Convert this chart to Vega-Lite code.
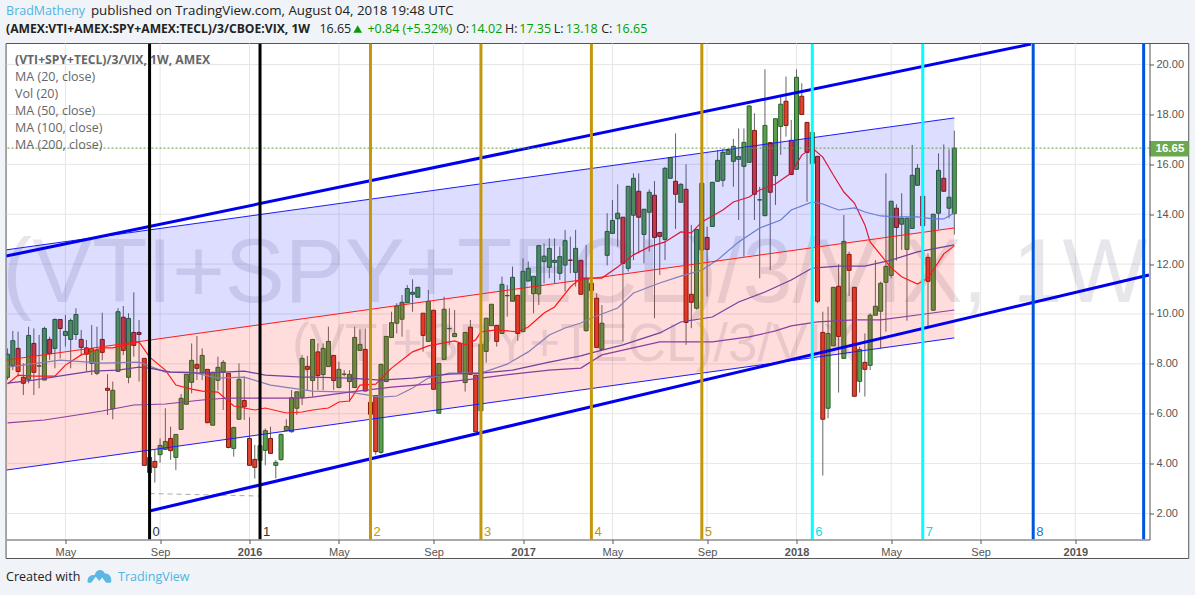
{"$schema":"https://vega.github.io/schema/vega-lite/v6.json","width":1143,"height":496,"autosize":"none","padding":{"left":6.5,"top":43.5,"right":45.5,"bottom":55.5},"background":"#f0f3f7","config":{"view":{"stroke":null},"scale":{"continuousPadding":0}},
"datasets":{
"candles":[
{"date":"2015-02-16","open":7.46,"high":8.62,"low":7.35,"close":8.39},
{"date":"2015-02-23","open":7.93,"high":9.32,"low":7.75,"close":8.93},
{"date":"2015-03-02","open":8.62,"high":9.29,"low":7.49,"close":7.69},
{"date":"2015-03-09","open":7.46,"high":8.02,"low":6.75,"close":7.22},
{"date":"2015-03-16","open":7.38,"high":9.49,"low":7.22,"close":9.14},
{"date":"2015-03-23","open":8.82,"high":9.42,"low":6.75,"close":7.66},
{"date":"2015-03-30","open":7.91,"high":9.16,"low":7.02,"close":7.92},
{"date":"2015-04-06","open":7.35,"high":9.49,"low":7.35,"close":9.42},
{"date":"2015-04-13","open":8.98,"high":9.09,"low":8.15,"close":8.41},
{"date":"2015-04-20","open":8.62,"high":9.82,"low":7.82,"close":9.78},
{"date":"2015-04-27","open":9.78,"high":9.78,"low":8.22,"close":9.42},
{"date":"2015-05-04","open":9.14,"high":9.96,"low":8.69,"close":9.30},
{"date":"2015-05-11","open":8.98,"high":9.82,"low":7.82,"close":9.74},
{"date":"2015-05-18","open":9.18,"high":10.23,"low":8.96,"close":9.98},
{"date":"2015-05-25","open":8.98,"high":9.36,"low":8.35,"close":8.66},
{"date":"2015-06-01","open":8.64,"high":8.96,"low":7.69,"close":8.39},
{"date":"2015-06-08","open":8.02,"high":9.56,"low":7.55,"close":8.61},
{"date":"2015-06-15","open":7.62,"high":9.49,"low":7.55,"close":8.55},
{"date":"2015-06-22","open":8.98,"high":10.05,"low":8.15,"close":8.46},
{"date":"2015-06-29","open":7.02,"high":7.59,"low":5.95,"close":6.94},
{"date":"2015-07-06","open":6.20,"high":7.29,"low":5.78,"close":6.94},
{"date":"2015-07-13","open":7.70,"high":10.23,"low":7.70,"close":10.09},
{"date":"2015-07-20","open":9.87,"high":10.32,"low":8.35,"close":8.54},
{"date":"2015-07-27","open":7.46,"high":10.03,"low":7.22,"close":9.82},
{"date":"2015-08-03","open":9.26,"high":10.87,"low":8.29,"close":8.74},
{"date":"2015-08-10","open":9.26,"high":9.76,"low":7.29,"close":9.18},
{"date":"2015-08-17","open":8.22,"high":8.22,"low":3.93,"close":3.93},
{"date":"2015-08-24","open":3.64,"high":4.68,"low":3.61,"close":4.25},
{"date":"2015-08-31","open":4.09,"high":4.55,"low":3.24,"close":3.85},
{"date":"2015-09-07","open":4.36,"high":5.01,"low":4.04,"close":4.73},
{"date":"2015-09-14","open":4.57,"high":6.22,"low":4.55,"close":4.89},
{"date":"2015-09-21","open":5.01,"high":5.48,"low":4.15,"close":4.52},
{"date":"2015-09-28","open":4.25,"high":5.17,"low":3.74,"close":5.17},
{"date":"2015-10-05","open":5.37,"high":6.79,"low":5.37,"close":6.62},
{"date":"2015-10-12","open":6.38,"high":7.58,"low":6.35,"close":7.58},
{"date":"2015-10-19","open":7.26,"high":8.82,"low":6.82,"close":8.14},
{"date":"2015-10-26","open":7.98,"high":9.12,"low":7.35,"close":7.82},
{"date":"2015-11-02","open":7.65,"high":8.62,"low":7.35,"close":8.34},
{"date":"2015-11-09","open":7.78,"high":7.78,"low":5.62,"close":5.64},
{"date":"2015-11-16","open":5.54,"high":7.69,"low":5.54,"close":7.66},
{"date":"2015-11-23","open":7.34,"high":8.29,"low":6.93,"close":7.86},
{"date":"2015-11-30","open":7.66,"high":8.15,"low":6.15,"close":8.06},
{"date":"2015-12-07","open":7.62,"high":7.62,"low":4.61,"close":4.65},
{"date":"2015-12-14","open":4.61,"high":5.48,"low":4.28,"close":5.45},
{"date":"2015-12-21","open":5.78,"high":8.02,"low":5.75,"close":7.38},
{"date":"2015-12-28","open":6.53,"high":7.49,"low":5.75,"close":6.28},
{"date":"2016-01-04","open":5.01,"high":5.86,"low":3.93,"close":3.93},
{"date":"2016-01-11","open":4.17,"high":4.75,"low":3.40,"close":3.85},
{"date":"2016-01-18","open":4.13,"high":4.95,"low":3.88,"close":4.72},
{"date":"2016-01-25","open":4.53,"high":5.41,"low":3.93,"close":5.32},
{"date":"2016-02-01","open":5.01,"high":5.48,"low":4.39,"close":4.41},
{"date":"2016-02-08","open":3.93,"high":4.14,"low":3.41,"close":4.05},
{"date":"2016-02-15","open":4.16,"high":5.21,"low":4.12,"close":5.17},
{"date":"2016-02-22","open":5.32,"high":5.78,"low":5.32,"close":5.49},
{"date":"2016-02-29","open":5.28,"high":6.95,"low":5.24,"close":6.64},
{"date":"2016-03-07","open":6.22,"high":6.88,"low":5.95,"close":6.88},
{"date":"2016-03-14","open":6.66,"high":8.35,"low":6.35,"close":8.22},
{"date":"2016-03-21","open":7.90,"high":8.32,"low":6.95,"close":7.78},
{"date":"2016-03-28","open":7.33,"high":8.98,"low":6.68,"close":8.98},
{"date":"2016-04-04","open":8.48,"high":8.82,"low":6.95,"close":7.53},
{"date":"2016-04-11","open":7.57,"high":8.82,"low":6.95,"close":8.62},
{"date":"2016-04-18","open":7.89,"high":9.49,"low":7.89,"close":8.90},
{"date":"2016-04-25","open":8.34,"high":8.34,"low":6.95,"close":7.33},
{"date":"2016-05-02","open":7.05,"high":8.09,"low":7.05,"close":7.78},
{"date":"2016-05-09","open":7.58,"high":7.75,"low":7.49,"close":7.59},
{"date":"2016-05-16","open":7.29,"high":7.75,"low":6.48,"close":7.58},
{"date":"2016-05-23","open":7.05,"high":9.49,"low":7.05,"close":9.06},
{"date":"2016-05-30","open":8.54,"high":9.38,"low":8.54,"close":8.78},
{"date":"2016-06-06","open":8.58,"high":9.42,"low":6.91,"close":6.91},
{"date":"2016-06-13","open":6.46,"high":6.46,"low":5.98,"close":5.98},
{"date":"2016-06-20","open":6.73,"high":6.73,"low":4.35,"close":4.48},
{"date":"2016-06-27","open":4.45,"high":7.98,"low":4.40,"close":7.98},
{"date":"2016-07-04","open":7.29,"high":9.10,"low":7.29,"close":9.10},
{"date":"2016-07-11","open":9.06,"high":10.09,"low":9.06,"close":9.65},
{"date":"2016-07-18","open":9.63,"high":10.43,"low":9.22,"close":10.32},
{"date":"2016-07-25","open":9.79,"high":10.76,"low":9.09,"close":10.47},
{"date":"2016-08-01","open":10.45,"high":11.16,"low":10.45,"close":11.02},
{"date":"2016-08-08","open":10.79,"high":11.39,"low":10.09,"close":10.87},
{"date":"2016-08-15","open":10.67,"high":11.07,"low":10.67,"close":11.07},
{"date":"2016-08-22","open":10.03,"high":10.03,"low":8.49,"close":9.14},
{"date":"2016-08-29","open":8.90,"high":10.96,"low":8.90,"close":10.51},
{"date":"2016-09-05","open":10.15,"high":10.15,"low":6.98,"close":6.98},
{"date":"2016-09-12","open":6.02,"high":8.02,"low":6.02,"close":8.02},
{"date":"2016-09-19","open":8.18,"high":10.69,"low":8.18,"close":10.19},
{"date":"2016-09-26","open":9.41,"high":10.23,"low":8.76,"close":9.42},
{"date":"2016-10-03","open":9.09,"high":10.16,"low":9.09,"close":9.22},
{"date":"2016-10-10","open":8.82,"high":8.82,"low":7.65,"close":7.65},
{"date":"2016-10-17","open":7.25,"high":9.26,"low":6.89,"close":9.26},
{"date":"2016-10-24","open":9.47,"high":9.76,"low":7.58,"close":7.58},
{"date":"2016-10-31","open":7.55,"high":7.55,"low":5.28,"close":5.28},
{"date":"2016-11-07","open":6.12,"high":8.78,"low":6.12,"close":8.78},
{"date":"2016-11-14","open":8.50,"high":9.83,"low":8.05,"close":9.83},
{"date":"2016-11-21","open":9.53,"high":10.39,"low":9.53,"close":10.39},
{"date":"2016-11-28","open":9.54,"high":9.54,"low":8.69,"close":8.90},
{"date":"2016-12-05","open":9.22,"high":11.50,"low":9.22,"close":11.19},
{"date":"2016-12-12","open":10.73,"high":11.16,"low":9.89,"close":10.74},
{"date":"2016-12-19","open":10.51,"high":11.90,"low":10.51,"close":11.47},
{"date":"2016-12-26","open":10.75,"high":10.75,"low":8.92,"close":9.22},
{"date":"2017-01-02","open":9.29,"high":12.23,"low":9.29,"close":11.71},
{"date":"2017-01-09","open":11.32,"high":12.10,"low":11.32,"close":11.83},
{"date":"2017-01-16","open":10.81,"high":11.51,"low":10.03,"close":11.51},
{"date":"2017-01-23","open":10.80,"high":12.77,"low":10.36,"close":12.74},
{"date":"2017-01-30","open":12.10,"high":12.83,"low":11.23,"close":12.32},
{"date":"2017-02-06","open":11.87,"high":13.03,"low":11.43,"close":12.63},
{"date":"2017-02-13","open":12.07,"high":13.03,"low":11.23,"close":12.15},
{"date":"2017-02-20","open":11.63,"high":12.70,"low":11.36,"close":12.30},
{"date":"2017-02-27","open":11.96,"high":13.37,"low":10.90,"close":12.94},
{"date":"2017-03-06","open":12.16,"high":13.10,"low":11.63,"close":12.15},
{"date":"2017-03-13","open":11.67,"high":13.37,"low":11.10,"close":12.63},
{"date":"2017-03-20","open":12.15,"high":12.15,"low":10.79,"close":10.79},
{"date":"2017-03-27","open":9.33,"high":12.77,"low":9.29,"close":11.43},
{"date":"2017-04-03","open":11.23,"high":11.23,"low":10.94,"close":10.94},
{"date":"2017-04-10","open":10.63,"high":10.83,"low":8.66,"close":8.66},
{"date":"2017-04-17","open":8.58,"high":10.36,"low":8.58,"close":9.63},
{"date":"2017-04-24","open":12.35,"high":14.04,"low":11.95,"close":13.31},
{"date":"2017-05-01","open":13.23,"high":14.57,"low":13.23,"close":13.75},
{"date":"2017-05-08","open":13.82,"high":15.20,"low":12.70,"close":14.04},
{"date":"2017-05-15","open":13.88,"high":13.88,"low":8.89,"close":12.03},
{"date":"2017-05-22","open":11.83,"high":15.12,"low":11.70,"close":15.12},
{"date":"2017-05-29","open":13.96,"high":15.64,"low":12.16,"close":15.44},
{"date":"2017-06-05","open":14.92,"high":15.64,"low":12.43,"close":13.88},
{"date":"2017-06-12","open":13.19,"high":14.20,"low":12.03,"close":14.20},
{"date":"2017-06-19","open":14.08,"high":15.00,"low":12.50,"close":14.88},
{"date":"2017-06-26","open":14.76,"high":15.33,"low":9.83,"close":13.07},
{"date":"2017-07-03","open":13.27,"high":13.27,"low":11.56,"close":13.11},
{"date":"2017-07-10","open":12.99,"high":15.90,"low":12.16,"close":15.84},
{"date":"2017-07-17","open":15.44,"high":16.30,"low":15.44,"close":16.27},
{"date":"2017-07-24","open":15.32,"high":17.24,"low":13.41,"close":14.80},
{"date":"2017-07-31","open":14.48,"high":15.24,"low":14.48,"close":15.20},
{"date":"2017-08-07","open":15.00,"high":16.00,"low":8.76,"close":9.66},
{"date":"2017-08-14","open":10.79,"high":13.57,"low":9.43,"close":10.47},
{"date":"2017-08-21","open":10.23,"high":13.39,"low":10.18,"close":13.39},
{"date":"2017-08-28","open":12.57,"high":15.24,"low":12.57,"close":15.24},
{"date":"2017-09-04","open":13.07,"high":13.50,"low":10.70,"close":12.59},
{"date":"2017-09-11","open":13.51,"high":15.28,"low":13.51,"close":15.28},
{"date":"2017-09-18","open":15.32,"high":16.57,"low":15.32,"close":16.16},
{"date":"2017-09-25","open":15.36,"high":16.64,"low":15.10,"close":16.48},
{"date":"2017-10-02","open":16.40,"high":16.64,"low":16.40,"close":16.56},
{"date":"2017-10-09","open":16.12,"high":17.02,"low":15.10,"close":16.72},
{"date":"2017-10-16","open":16.20,"high":17.44,"low":13.77,"close":16.31},
{"date":"2017-10-23","open":15.92,"high":17.44,"low":12.30,"close":16.88},
{"date":"2017-10-30","open":16.08,"high":18.38,"low":16.08,"close":18.34},
{"date":"2017-11-06","open":17.36,"high":18.05,"low":13.77,"close":14.80},
{"date":"2017-11-13","open":14.57,"high":15.10,"low":11.43,"close":14.58},
{"date":"2017-11-20","open":13.94,"high":19.81,"low":13.94,"close":17.56},
{"date":"2017-11-27","open":16.87,"high":16.87,"low":11.76,"close":14.88},
{"date":"2017-12-04","open":15.55,"high":17.83,"low":14.37,"close":17.83},
{"date":"2017-12-11","open":17.52,"high":18.71,"low":16.38,"close":18.41},
{"date":"2017-12-18","open":18.53,"high":19.52,"low":17.11,"close":17.56},
{"date":"2017-12-25","open":16.96,"high":17.78,"low":15.59,"close":15.59},
{"date":"2018-01-01","open":15.80,"high":19.81,"low":15.80,"close":19.49},
{"date":"2018-01-08","open":18.73,"high":19.25,"low":18.00,"close":18.00},
{"date":"2018-01-15","open":17.68,"high":17.68,"low":14.50,"close":16.48},
{"date":"2018-01-22","open":16.04,"high":17.28,"low":16.04,"close":17.28},
{"date":"2018-01-29","open":16.32,"high":16.32,"low":10.43,"close":10.51},
{"date":"2018-02-05","open":9.26,"high":10.09,"low":3.52,"close":5.78},
{"date":"2018-02-12","open":6.22,"high":10.29,"low":5.82,"close":9.22},
{"date":"2018-02-19","open":8.72,"high":11.07,"low":8.72,"close":11.07},
{"date":"2018-02-26","open":11.11,"high":12.00,"low":6.85,"close":9.10},
{"date":"2018-03-05","open":8.22,"high":13.97,"low":8.22,"close":12.91},
{"date":"2018-03-12","open":12.39,"high":12.50,"low":10.72,"close":11.75},
{"date":"2018-03-19","open":11.07,"high":11.07,"low":6.70,"close":6.70},
{"date":"2018-03-26","open":7.30,"high":8.69,"low":6.85,"close":8.58},
{"date":"2018-04-02","open":8.06,"high":9.22,"low":6.69,"close":7.78},
{"date":"2018-04-09","open":7.94,"high":10.03,"low":7.75,"close":9.95},
{"date":"2018-04-16","open":9.95,"high":12.16,"low":9.95,"close":10.31},
{"date":"2018-04-23","open":10.11,"high":11.30,"low":8.62,"close":11.23},
{"date":"2018-04-30","open":11.27,"high":15.64,"low":9.29,"close":11.91},
{"date":"2018-05-07","open":11.55,"high":14.52,"low":11.43,"close":14.52},
{"date":"2018-05-14","open":14.24,"high":14.40,"low":12.14,"close":13.47},
{"date":"2018-05-21","open":13.60,"high":14.84,"low":12.57,"close":13.84},
{"date":"2018-05-28","open":12.59,"high":13.84,"low":9.73,"close":13.84},
{"date":"2018-06-04","open":13.43,"high":16.78,"low":13.43,"close":15.56},
{"date":"2018-06-11","open":15.16,"high":16.01,"low":15.16,"close":15.84},
{"date":"2018-06-18","open":14.72,"high":14.72,"low":13.54,"close":13.54},
{"date":"2018-06-25","open":12.27,"high":12.43,"low":9.49,"close":11.31},
{"date":"2018-07-02","open":10.15,"high":14.00,"low":10.15,"close":14.00},
{"date":"2018-07-09","open":14.04,"high":16.44,"low":13.39,"close":15.76},
{"date":"2018-07-16","open":15.44,"high":16.80,"low":14.92,"close":14.92},
{"date":"2018-07-23","open":14.24,"high":16.60,"low":13.84,"close":14.68},
{"date":"2018-07-30","open":14.02,"high":17.35,"low":13.18,"close":16.65}
],
"ma":[
{"ma":"MA20","date":"2015-02-16","value":7.19},{"ma":"MA20","date":"2015-03-02","value":7.55},{"ma":"MA20","date":"2015-03-23","value":7.51},{"ma":"MA20","date":"2015-04-20","value":7.51},{"ma":"MA20","date":"2015-05-04","value":7.95},{"ma":"MA20","date":"2015-05-25","value":8.36},{"ma":"MA20","date":"2015-06-22","value":8.64},{"ma":"MA20","date":"2015-07-06","value":8.64},{"ma":"MA20","date":"2015-08-03","value":8.84},{"ma":"MA20","date":"2015-08-10","value":8.88},{"ma":"MA20","date":"2015-08-24","value":8.27},{"ma":"MA20","date":"2015-09-14","value":7.75},{"ma":"MA20","date":"2015-09-28","value":7.15},{"ma":"MA20","date":"2015-10-19","value":6.99},{"ma":"MA20","date":"2015-11-02","value":6.91},{"ma":"MA20","date":"2015-11-23","value":6.87},{"ma":"MA20","date":"2015-12-14","value":6.31},{"ma":"MA20","date":"2016-01-11","value":6.15},{"ma":"MA20","date":"2016-01-25","value":6.23},{"ma":"MA20","date":"2016-02-22","value":6.03},{"ma":"MA20","date":"2016-03-14","value":6.07},{"ma":"MA20","date":"2016-03-28","value":6.15},{"ma":"MA20","date":"2016-04-18","value":6.23},{"ma":"MA20","date":"2016-05-02","value":6.47},{"ma":"MA20","date":"2016-05-16","value":6.51},{"ma":"MA20","date":"2016-05-30","value":7.15},{"ma":"MA20","date":"2016-06-20","value":7.19},{"ma":"MA20","date":"2016-07-11","value":7.83},{"ma":"MA20","date":"2016-08-08","value":8.48},{"ma":"MA20","date":"2016-08-29","value":8.72},{"ma":"MA20","date":"2016-09-19","value":8.84},{"ma":"MA20","date":"2016-10-03","value":8.92},{"ma":"MA20","date":"2016-10-17","value":8.76},{"ma":"MA20","date":"2016-10-31","value":8.96},{"ma":"MA20","date":"2016-11-07","value":9.28},{"ma":"MA20","date":"2016-11-28","value":9.36},{"ma":"MA20","date":"2016-12-26","value":9.28},{"ma":"MA20","date":"2017-01-09","value":9.48},{"ma":"MA20","date":"2017-01-30","value":10.04},{"ma":"MA20","date":"2017-02-13","value":10.28},{"ma":"MA20","date":"2017-03-06","value":11.08},{"ma":"MA20","date":"2017-03-20","value":11.44},{"ma":"MA20","date":"2017-04-17","value":11.44},{"ma":"MA20","date":"2017-05-08","value":11.88},{"ma":"MA20","date":"2017-05-29","value":12.37},{"ma":"MA20","date":"2017-06-19","value":12.69},{"ma":"MA20","date":"2017-07-10","value":12.89},{"ma":"MA20","date":"2017-07-31","value":13.29},{"ma":"MA20","date":"2017-08-14","value":13.25},{"ma":"MA20","date":"2017-08-28","value":13.69},{"ma":"MA20","date":"2017-09-25","value":14.17},{"ma":"MA20","date":"2017-10-09","value":14.49},{"ma":"MA20","date":"2017-10-30","value":14.69},{"ma":"MA20","date":"2017-11-13","value":14.97},{"ma":"MA20","date":"2017-12-04","value":15.21},{"ma":"MA20","date":"2017-12-25","value":15.65},{"ma":"MA20","date":"2018-01-08","value":16.37},{"ma":"MA20","date":"2018-01-22","value":16.65},{"ma":"MA20","date":"2018-02-05","value":16.29},{"ma":"MA20","date":"2018-02-19","value":15.57},{"ma":"MA20","date":"2018-03-05","value":14.89},{"ma":"MA20","date":"2018-03-19","value":14.45},{"ma":"MA20","date":"2018-04-02","value":13.57},{"ma":"MA20","date":"2018-04-09","value":12.89},{"ma":"MA20","date":"2018-04-23","value":12.37},{"ma":"MA20","date":"2018-05-07","value":11.85},{"ma":"MA20","date":"2018-05-21","value":11.49},{"ma":"MA20","date":"2018-06-11","value":11.20},{"ma":"MA20","date":"2018-06-25","value":11.44},{"ma":"MA20","date":"2018-07-02","value":11.76},{"ma":"MA20","date":"2018-07-16","value":12.41},{"ma":"MA20","date":"2018-07-30","value":12.73},
{"ma":"MA50","date":"2015-02-16","value":7.87},{"ma":"MA50","date":"2015-04-27","value":8.15},{"ma":"MA50","date":"2015-06-22","value":8.03},{"ma":"MA50","date":"2015-08-10","value":8.07},{"ma":"MA50","date":"2015-09-14","value":7.67},{"ma":"MA50","date":"2015-10-19","value":7.67},{"ma":"MA50","date":"2015-11-23","value":7.43},{"ma":"MA50","date":"2015-12-28","value":7.47},{"ma":"MA50","date":"2016-02-01","value":7.15},{"ma":"MA50","date":"2016-02-29","value":7.03},{"ma":"MA50","date":"2016-03-28","value":6.91},{"ma":"MA50","date":"2016-05-16","value":6.87},{"ma":"MA50","date":"2016-06-27","value":6.67},{"ma":"MA50","date":"2016-07-18","value":6.71},{"ma":"MA50","date":"2016-08-08","value":7.03},{"ma":"MA50","date":"2016-08-29","value":7.43},{"ma":"MA50","date":"2016-09-26","value":7.63},{"ma":"MA50","date":"2016-11-07","value":7.63},{"ma":"MA50","date":"2016-12-12","value":7.99},{"ma":"MA50","date":"2017-01-09","value":8.48},{"ma":"MA50","date":"2017-02-06","value":9.16},{"ma":"MA50","date":"2017-02-27","value":9.44},{"ma":"MA50","date":"2017-03-20","value":9.64},{"ma":"MA50","date":"2017-04-03","value":9.84},{"ma":"MA50","date":"2017-05-08","value":10.24},{"ma":"MA50","date":"2017-05-29","value":10.84},{"ma":"MA50","date":"2017-07-03","value":11.24},{"ma":"MA50","date":"2017-07-31","value":11.52},{"ma":"MA50","date":"2017-08-28","value":11.76},{"ma":"MA50","date":"2017-09-18","value":12.17},{"ma":"MA50","date":"2017-10-16","value":12.89},{"ma":"MA50","date":"2017-11-13","value":13.45},{"ma":"MA50","date":"2017-12-11","value":13.77},{"ma":"MA50","date":"2017-12-25","value":14.17},{"ma":"MA50","date":"2018-01-22","value":14.49},{"ma":"MA50","date":"2018-02-05","value":14.41},{"ma":"MA50","date":"2018-02-26","value":14.17},{"ma":"MA50","date":"2018-03-19","value":14.25},{"ma":"MA50","date":"2018-04-02","value":14.09},{"ma":"MA50","date":"2018-04-23","value":13.93},{"ma":"MA50","date":"2018-05-14","value":13.89},{"ma":"MA50","date":"2018-06-11","value":13.89},{"ma":"MA50","date":"2018-07-02","value":13.81},{"ma":"MA50","date":"2018-07-16","value":13.81},{"ma":"MA50","date":"2018-07-30","value":14.05},
{"ma":"MA100","date":"2015-02-16","value":7.23},{"ma":"MA100","date":"2015-03-23","value":7.35},{"ma":"MA100","date":"2015-05-04","value":7.55},{"ma":"MA100","date":"2015-06-08","value":7.71},{"ma":"MA100","date":"2015-07-13","value":7.75},{"ma":"MA100","date":"2015-08-10","value":7.87},{"ma":"MA100","date":"2015-08-24","value":7.83},{"ma":"MA100","date":"2015-09-21","value":7.67},{"ma":"MA100","date":"2015-11-02","value":7.63},{"ma":"MA100","date":"2015-12-28","value":7.71},{"ma":"MA100","date":"2016-01-25","value":7.55},{"ma":"MA100","date":"2016-03-14","value":7.47},{"ma":"MA100","date":"2016-03-28","value":7.47},{"ma":"MA100","date":"2016-05-16","value":7.43},{"ma":"MA100","date":"2016-06-27","value":7.35},{"ma":"MA100","date":"2016-08-08","value":7.43},{"ma":"MA100","date":"2016-09-26","value":7.59},{"ma":"MA100","date":"2016-11-07","value":7.63},{"ma":"MA100","date":"2016-12-19","value":7.75},{"ma":"MA100","date":"2017-02-06","value":8.07},{"ma":"MA100","date":"2017-03-20","value":8.32},{"ma":"MA100","date":"2017-04-03","value":8.44},{"ma":"MA100","date":"2017-05-15","value":8.76},{"ma":"MA100","date":"2017-07-03","value":9.24},{"ma":"MA100","date":"2017-07-31","value":9.68},{"ma":"MA100","date":"2017-09-11","value":9.88},{"ma":"MA100","date":"2017-10-16","value":10.48},{"ma":"MA100","date":"2017-11-20","value":10.88},{"ma":"MA100","date":"2017-12-25","value":11.36},{"ma":"MA100","date":"2018-01-22","value":11.84},{"ma":"MA100","date":"2018-02-26","value":11.92},{"ma":"MA100","date":"2018-04-02","value":11.92},{"ma":"MA100","date":"2018-05-07","value":12.16},{"ma":"MA100","date":"2018-06-11","value":12.49},{"ma":"MA100","date":"2018-07-16","value":12.69},{"ma":"MA100","date":"2018-07-30","value":12.77},
{"ma":"MA200","date":"2015-02-16","value":5.63},{"ma":"MA200","date":"2015-04-06","value":5.75},{"ma":"MA200","date":"2015-05-11","value":5.91},{"ma":"MA200","date":"2015-06-22","value":6.11},{"ma":"MA200","date":"2015-08-03","value":6.35},{"ma":"MA200","date":"2015-09-14","value":6.39},{"ma":"MA200","date":"2015-11-02","value":6.55},{"ma":"MA200","date":"2015-12-07","value":6.63},{"ma":"MA200","date":"2016-03-14","value":6.63},{"ma":"MA200","date":"2016-03-28","value":6.67},{"ma":"MA200","date":"2016-05-16","value":6.87},{"ma":"MA200","date":"2016-07-11","value":7.07},{"ma":"MA200","date":"2016-08-29","value":7.19},{"ma":"MA200","date":"2016-11-07","value":7.43},{"ma":"MA200","date":"2016-12-19","value":7.59},{"ma":"MA200","date":"2017-02-06","value":7.75},{"ma":"MA200","date":"2017-03-20","value":7.83},{"ma":"MA200","date":"2017-04-17","value":8.36},{"ma":"MA200","date":"2017-07-03","value":8.88},{"ma":"MA200","date":"2017-09-11","value":8.88},{"ma":"MA200","date":"2017-10-30","value":9.08},{"ma":"MA200","date":"2017-12-04","value":9.32},{"ma":"MA200","date":"2017-12-25","value":9.52},{"ma":"MA200","date":"2018-01-29","value":9.68},{"ma":"MA200","date":"2018-03-19","value":9.76},{"ma":"MA200","date":"2018-04-23","value":9.76},{"ma":"MA200","date":"2018-06-11","value":9.96},{"ma":"MA200","date":"2018-07-30","value":10.16}
],
"channel":[{"date":"2015-02-14","upper":12.57,"mid":8.15,"lower":3.74},{"date":"2018-07-30","upper":17.86,"mid":13.45,"lower":9.04}],
"trend":[{"line":"upper","date":"2015-02-14","value":12.32},{"line":"upper","date":"2018-11-09","value":20.82},{"line":"lower","date":"2015-08-24","value":2.10},{"line":"lower","date":"2019-04-15","value":11.56}],
"fib":[{"date":"2015-08-24","n":"0"},{"date":"2016-01-18","n":"1"},{"date":"2016-06-13","n":"2"},{"date":"2016-11-07","n":"3"},{"date":"2017-04-03","n":"4"},{"date":"2017-08-28","n":"5"},{"date":"2018-01-22","n":"6"},{"date":"2018-06-18","n":"7"},{"date":"2018-11-12","n":"8"},{"date":"2019-04-08","n":"9"}],
"months":[{"date":"2015-05-04"},{"date":"2015-09-07"},{"date":"2016-01-04"},{"date":"2016-05-02"},{"date":"2016-09-05"},{"date":"2017-01-02"},{"date":"2017-05-01"},{"date":"2017-09-04"},{"date":"2018-01-01"},{"date":"2018-05-07"},{"date":"2018-09-03"},{"date":"2019-01-07"}],
"levels":[{"value":2},{"value":4},{"value":6},{"value":8},{"value":10},{"value":12},{"value":14},{"value":16},{"value":18},{"value":20}],
"plain":[
{"text":"BradMatheny","kind":"link","date":"2015-02-14","value":22.15},
{"text":"16.65","kind":"dark","date":"2016-04-06","value":21.43},
{"text":"+0.84 (+5.32%)","kind":"up","date":"2016-06-09","value":21.43},
{"text":"O:","kind":"dark","date":"2016-10-05","value":21.43},
{"text":"14.02","kind":"up","date":"2016-10-24","value":21.43},
{"text":"H:","kind":"dark","date":"2016-12-09","value":21.43},
{"text":"17.35","kind":"up","date":"2016-12-28","value":21.43},
{"text":"L:","kind":"dark","date":"2017-02-12","value":21.43},
{"text":"13.18","kind":"up","date":"2017-02-28","value":21.43},
{"text":"C:","kind":"dark","date":"2017-04-16","value":21.43},
{"text":"16.65","kind":"up","date":"2017-05-05","value":21.43},
{"text":"MA (20, close)","kind":"legend","date":"2015-02-26","value":19.5},
{"text":"Vol (20)","kind":"legend","date":"2015-02-26","value":18.82},
{"text":"MA (50, close)","kind":"legend","date":"2015-02-26","value":18.14},
{"text":"MA (100, close)","kind":"legend","date":"2015-02-26","value":17.46},
{"text":"MA (200, close)","kind":"legend","date":"2015-02-26","value":16.78},
{"text":"Created with","kind":"dark","date":"2015-02-14","value":-0.546},
{"text":"TradingView","kind":"link","date":"2015-07-13","value":-0.546}
],
"bold":[
{"text":"(AMEX:VTI+AMEX:SPY+AMEX:TECL)/3/CBOE:VIX, 1W","kind":"dark","date":"2015-02-14","value":21.43},
{"text":"(VTI+SPY+TECL)/3/VIX, 1W, AMEX","kind":"legend","date":"2015-02-26","value":20.18}
]
},
"layer":[
{"data":{"values":[{"d1":"2015-02-14","d2":"2019-06-07","v1":0.196,"v2":20.845}]},"mark":{"type":"rect","fill":"#ffffff","stroke":"#555555","strokeWidth":1},
"encoding":{"x":{"field":"d1","type":"temporal","title":null,"scale":{"padding":0,"domain":[{"year":2015,"month":2,"date":14,"hours":14,"utc":true},{"year":2019,"month":4,"date":15,"hours":19,"utc":true}]},
"axis":{"zindex":1,"grid":false,"title":null,"values":[{"year":2015,"month":5,"date":4,"utc":true},{"year":2015,"month":9,"date":7,"utc":true},{"year":2016,"month":1,"date":4,"utc":true},{"year":2016,"month":5,"date":2,"utc":true},{"year":2016,"month":9,"date":5,"utc":true},{"year":2017,"month":1,"date":2,"utc":true},{"year":2017,"month":5,"date":1,"utc":true},{"year":2017,"month":9,"date":4,"utc":true},{"year":2018,"month":1,"date":1,"utc":true},{"year":2018,"month":5,"date":7,"utc":true},{"year":2018,"month":9,"date":3,"utc":true},{"year":2019,"month":1,"date":7,"utc":true}],"labelExpr":"utcmonth(datum.value)==0?utcyear(datum.value):utcFormat(datum.value,'%b')","labelFont":"Liberation Sans","labelFontSize":11,"labelColor":"#555555","labelFontWeight":{"condition":{"test":"utcmonth(datum.value)==0","value":"bold"},"value":"normal"},"labelFlush":false,"labelOverlap":false,"labelPadding":3,"tickSize":4,"tickColor":"#555555","domainColor":"#555555"}},
"x2":{"field":"d2"},
"y":{"field":"v1","type":"quantitative","title":null,"scale":{"domain":[0.9575,20.845],"zero":false,"nice":false},
"axis":{"orient":"right","zindex":1,"grid":false,"title":null,"values":[2,4,6,8,10,12,14,16,18,20],"format":".2f","labelFont":"Liberation Sans","labelFontSize":11,"labelColor":"#555555","labelPadding":2.5,"tickSize":4,"tickColor":"#555555","domainColor":"#555555"}},
"y2":{"field":"v2"}}},
{"data":{"name":"months"},"mark":{"type":"rule","stroke":"#e6e6e6","strokeWidth":1},"encoding":{"x":{"field":"date","type":"temporal"}}},
{"data":{"name":"levels"},"mark":{"type":"rule","stroke":"#e6e6e6","strokeWidth":1},"encoding":{"y":{"field":"value","type":"quantitative"}}},
{"data":{"values":[{"text":"(VTI+SPY+TECL)/3/VIX, 1W","date":"2017-03-12","value":11.56,"size":"big"},{"text":"(VTI+SPY+TECL)/3/VIX","date":"2017-03-12","value":8.76,"size":"small"}]},"mark":{"type":"text","font":"Liberation Sans","align":"center","baseline":"middle","fill":"#555577","opacity":0.14},"encoding":{"x":{"field":"date","type":"temporal"},"y":{"field":"value","type":"quantitative"},"text":{"field":"text"},"size":{"field":"size","type":"nominal","scale":{"domain":["big","small"],"range":[90,53]},"legend":null}}},
{"data":{"name":"candles"},"mark":{"type":"rule","stroke":"#666666","strokeWidth":1,"clip":true},"encoding":{"x":{"field":"date","type":"temporal"},"y":{"field":"low","type":"quantitative"},"y2":{"field":"high"}}},
{"data":{"name":"candles"},"mark":{"type":"bar","width":4,"strokeWidth":1,"clip":true},"encoding":{"x":{"field":"date","type":"temporal"},"y":{"field":"open","type":"quantitative"},"y2":{"field":"close"},"fill":{"condition":{"test":"datum.close>=datum.open","value":"#5a9f4a"},"value":"#de432e"},"stroke":{"condition":{"test":"datum.close>=datum.open","value":"#2c5f2e"},"value":"#7a1a12"}}},
{"data":{"name":"ma"},"mark":{"type":"line","strokeWidth":1.2,"clip":true},"encoding":{"x":{"field":"date","type":"temporal"},"y":{"field":"value","type":"quantitative"},"color":{"field":"ma","type":"nominal","legend":null,"scale":{"domain":["MA20","MA50","MA100","MA200"],"range":["#ff1c1c","#7391d0","#5a4cb4","#7a48b4"]}}}},
{"data":{"name":"channel"},"mark":{"type":"area","fill":"#0000ff","opacity":0.135,"clip":true},"encoding":{"x":{"field":"date","type":"temporal"},"y":{"field":"upper","type":"quantitative"},"y2":{"field":"mid"}}},
{"data":{"name":"channel"},"mark":{"type":"area","fill":"#ff0000","opacity":0.135,"clip":true},"encoding":{"x":{"field":"date","type":"temporal"},"y":{"field":"mid","type":"quantitative"},"y2":{"field":"lower"}}},
{"data":{"name":"channel"},"mark":{"type":"line","stroke":"#1a1aff","strokeWidth":1,"clip":true},"encoding":{"x":{"field":"date","type":"temporal"},"y":{"field":"upper","type":"quantitative"}}},
{"data":{"name":"channel"},"mark":{"type":"line","stroke":"#ff1a1a","strokeWidth":1,"clip":true},"encoding":{"x":{"field":"date","type":"temporal"},"y":{"field":"mid","type":"quantitative"}}},
{"data":{"name":"channel"},"mark":{"type":"line","stroke":"#1a1aff","strokeWidth":1,"clip":true},"encoding":{"x":{"field":"date","type":"temporal"},"y":{"field":"lower","type":"quantitative"}}},
{"data":{"values":[{"date":"2015-08-24","value":2.8},{"date":"2016-01-18","value":2.7}]},"mark":{"type":"line","stroke":"#aaaaaa","strokeWidth":1,"strokeDash":[5,4]},"encoding":{"x":{"field":"date","type":"temporal"},"y":{"field":"value","type":"quantitative"}}},
{"data":{"name":"trend"},"mark":{"type":"line","stroke":"#0000ee","strokeWidth":3,"clip":true},"encoding":{"x":{"field":"date","type":"temporal"},"y":{"field":"value","type":"quantitative"},"detail":{"field":"line"}}},
{"data":{"values":[{"value":16.65}]},"mark":{"type":"rule","stroke":"#5aa03a","strokeWidth":1,"strokeDash":[2,2]},"encoding":{"y":{"field":"value","type":"quantitative"}}},
{"data":{"name":"fib"},"mark":{"type":"rule","strokeWidth":3,"clip":true},"encoding":{"x":{"field":"date","type":"temporal"},"color":{"field":"n","type":"nominal","legend":null,"scale":{"domain":["0","1","2","3","4","5","6","7","8","9"],"range":["#000000","#000000","#c4960c","#c4960c","#c4960c","#c4960c","#00ffff","#00ffff","#0055dd","#0055dd"]}}}},
{"data":{"name":"fib"},"transform":[{"filter":"datum.n!='9'"}],"mark":{"type":"text","font":"Liberation Sans","fontSize":13,"align":"left","baseline":"middle","dx":3},"encoding":{"x":{"field":"date","type":"temporal"},"y":{"datum":1.26,"type":"quantitative"},"text":{"field":"n"},"color":{"field":"n","type":"nominal","legend":null,"scale":{"domain":["0","1","2","3","4","5","6","7","8","9"],"range":["#333333","#333333","#c4960c","#c4960c","#c4960c","#c4960c","#00e5e5","#00e5e5","#2a6fe0","#2a6fe0"]}}}},
{"data":{"values":[{"d1":"2019-04-15T19:00:00Z","d2":"2019-06-07","v1":16.31,"v2":16.94}]},"mark":{"type":"rect","fill":"#6ba84f"},"encoding":{"x":{"field":"d1","type":"temporal"},"x2":{"field":"d2"},"y":{"field":"v1","type":"quantitative"},"y2":{"field":"v2"}}},
{"data":{"values":[{"text":"16.65","date":"2019-05-13","value":16.63}]},"mark":{"type":"text","font":"Liberation Sans","fontSize":11.5,"fontWeight":"bold","fill":"#ffffff","align":"center","baseline":"middle"},"encoding":{"x":{"field":"date","type":"temporal"},"y":{"field":"value","type":"quantitative"},"text":{"field":"text"}}},
{"data":{"name":"plain"},"mark":{"type":"text","font":"Open Sans","fontSize":12.5,"align":"left","baseline":"middle"},"encoding":{"x":{"field":"date","type":"temporal"},"y":{"field":"value","type":"quantitative"},"text":{"field":"text"},"color":{"field":"kind","type":"nominal","legend":null,"scale":{"domain":["dark","link","up","legend"],"range":["#222222","#4fb3e3","#00a000","#666666"]}}}},
{"data":{"values":[{"text":"published on TradingView.com, August 04, 2018 19:48 UTC","date":"2015-06-07","value":22.15}]},"mark":{"type":"text","font":"Open Sans","fontSize":13.3,"align":"left","baseline":"middle","fill":"#222222"},"encoding":{"x":{"field":"date","type":"temporal"},"y":{"field":"value","type":"quantitative"},"text":{"field":"text"}}},
{"data":{"name":"bold"},"mark":{"type":"text","font":"Open Sans","fontSize":12.15,"fontWeight":"bold","align":"left","baseline":"middle"},"encoding":{"x":{"field":"date","type":"temporal"},"y":{"field":"value","type":"quantitative"},"text":{"field":"text"},"color":{"field":"kind","type":"nominal","legend":null,"scale":{"domain":["dark","legend"],"range":["#222222","#666666"]}}}},
{"data":{"values":[{"date":"2016-05-27","value":21.43}]},"mark":{"type":"point","shape":"triangle-up","filled":true,"fill":"#00a000","opacity":1,"size":75},"encoding":{"x":{"field":"date","type":"temporal"},"y":{"field":"value","type":"quantitative"}}},
{"data":{"values":[{"date":"2015-06-18","value":-0.546}]},"mark":{"type":"point","filled":true,"fill":"#5bb8e4","opacity":1,"size":529,"shape":"M-1,0.5 C-1.1,0 -0.7,-0.25 -0.4,-0.15 C-0.3,-0.7 0.3,-0.75 0.5,-0.3 C0.95,-0.35 1.15,0.2 1,0.5 L0.6,0.5 L0.25,0.05 L0,0.35 L-0.3,-0.02 L-0.7,0.5 Z"},"encoding":{"x":{"field":"date","type":"temporal"},"y":{"field":"value","type":"quantitative"}}}
],
"resolve":{"scale":{"color":"independent"}}}
